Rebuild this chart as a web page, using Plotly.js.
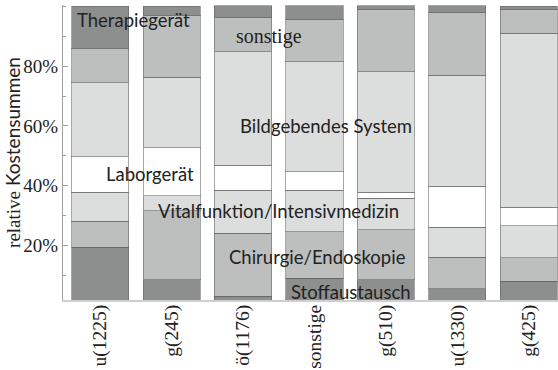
<!DOCTYPE html>
<html>
<head>
<meta charset="utf-8">
<script src="https://cdn.plot.ly/plotly-3.0.1.min.js"></script>
<style>html,body{margin:0;padding:0;background:#fff;}#chart{width:558px;height:370px;}</style>
</head>
<body>
<div id="chart"></div>
<script>
// Categories (bars)
const groups = ["u(1225)", "g(245)", "ö(1176)", "sonstige", "g(510)", "u(1330)", "g(425)"];
// Series (stack order bottom -> top), values in percent
const stoffaustausch = [19.3, 8.4, 3.0, 8.9, 8.4, 5.5, 8.0];
const chirurgie      = [8.8, 23.2, 21.0, 15.6, 16.8, 10.5, 7.9];
const vitalfunktion  = [9.6, 5.0, 14.5, 14.0, 10.6, 10.1, 10.6];
const laborgeraet    = [11.9, 16.1, 8.4, 6.1, 1.9, 13.7, 6.2];
const bildgebend     = [24.9, 23.6, 38.0, 36.9, 40.5, 37.1, 58.3];
const sonstige       = [11.4, 20.6, 11.5, 14.0, 20.9, 21.2, 8.0];
const therapie       = [14.2, 3.2, 3.8, 4.7, 1.1, 2.1, 1.1];
const seriesNames = ["Stoffaustausch", "Chirurgie/Endoskopie", "Vitalfunktion/Intensivmedizin", "Laborgerät", "Bildgebendes System", "sonstige", "Therapiegerät"];
const seriesValues = [stoffaustausch, chirurgie, vitalfunktion, laborgeraet, bildgebend, sonstige, therapie];
// Y tick labels
const yTickVals = [0.2, 0.4, 0.6, 0.8];
const yTickText = ["20%", "40%", "60%", "80%"];

const DARK = "#8d8e8e", MED = "#bdbfbf", LIGHT = "#dcdddd", WHITE = "#ffffff";
const colors = [DARK, MED, LIGHT, WHITE, LIGHT, MED, DARK];

const traces = seriesValues.map((vals, i) => ({
  type: "bar",
  name: seriesNames[i],
  x: groups,
  y: vals.map(v => v / 100),
  marker: {color: colors[i], line: {color: "rgba(95,95,95,0.55)", width: 1}},
  hoverinfo: "skip"
}));

const SANS = "Lato, 'Open Sans', sans-serif";
const SERIF = "'Liberation Serif', 'DejaVu Serif', serif";

function lab(text, x, y, font) {
  return {text: text, x: x, y: y, xref: "x", yref: "y", showarrow: false,
          xanchor: "center", yanchor: "middle",
          font: font || {family: SANS, size: 18.5, color: "#222"}};
}

const layout = {
  width: 558, height: 370,
  margin: {l: 63, r: 0, t: 5, b: 70, pad: 0},
  paper_bgcolor: "#fff", plot_bgcolor: "#fff",
  barmode: "stack", bargap: 0.2,
  showlegend: false,
  xaxis: {
    type: "category", range: [-0.52, 6.41],
    showline: true, linecolor: "#cfcfcf", linewidth: 2,
    ticks: "", tickangle: -90, ticklabelstandoff: -5,
    tickfont: {family: SERIF, size: 19.5, color: "#222"},
    showgrid: false, zeroline: false, fixedrange: true, automargin: false
  },
  yaxis: {
    range: [0.0168, 1.005],
    showline: true, linecolor: "#a0a0a0", linewidth: 1,
    tickmode: "array", tickvals: yTickVals, ticktext: yTickText,
    ticks: "inside", ticklen: 5, tickcolor: "#a0a0a0", tickwidth: 1,
    minor: {tickmode: "array", tickvals: [0.1, 0.3, 0.5, 0.7, 0.9, 1.0], ticks: "inside", ticklen: 3, tickcolor: "#a0a0a0"},
    tickfont: {family: SERIF, size: 19, color: "#222"},
    showgrid: false, zeroline: false, automargin: false,
    title: {
      text: "<span style=\"font-family:'Liberation Serif', serif\">relative</span> <span style=\"font-family:Lato, sans-serif\">Kostensummen</span>",
      font: {size: 19, color: "#222"}, standoff: 2
    }
  },
  annotations: [
    lab("Therapiegerät", 0.46, 0.955),
    lab("sonstige", 2.37, 0.898, {family: SERIF, size: 20, color: "#222"}),
    lab("Bildgebendes System", 3.159, 0.600),
    lab("Laborgerät", 0.698, 0.439),
    lab("Vitalfunktion/Intensivmedizin", 2.494, 0.315),
    lab("Chirurgie/Endoskopie", 3.036, 0.161),
    lab("Stoffaustausch", 3.515, 0.045)
  ]
};

Plotly.newPlot("chart", traces, layout, {displayModeBar: false, staticPlot: true});
</script>
</body>
</html>
